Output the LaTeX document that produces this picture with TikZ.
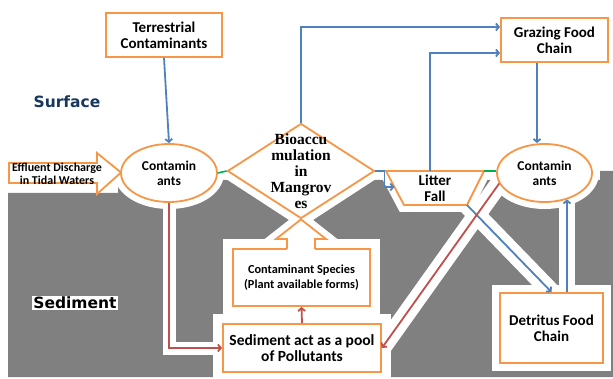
\documentclass[tikz,border=0pt]{standalone}
\usepackage{fontspec}
\setmainfont{Carlito}
\newfontfamily\timesfam{Liberation Serif}
\newfontfamily\heavyfam{DejaVu Sans}
\usetikzlibrary{arrows.meta,calc,shapes.geometric,backgrounds}
\definecolor{orng}{RGB}{247,150,70}
\definecolor{blu}{RGB}{79,129,189}
\definecolor{rd}{RGB}{192,80,77}
\definecolor{grn}{RGB}{0,176,80}
\definecolor{sedg}{RGB}{128,128,128}
\definecolor{navy}{RGB}{23,55,94}
\tikzset{
  box/.style={rectangle,draw=orng,line width=1.8pt,fill=white,inner sep=0pt,align=center,font=\bfseries\fontsize{15}{16}\selectfont},
  oval/.style={ellipse,draw=orng,line width=1.8pt,fill=white,inner sep=0pt,minimum width=96pt,minimum height=58pt,align=center,font=\bfseries\fontsize{13.5}{15}\selectfont},
  dia/.style={diamond,draw=orng,line width=1.8pt,fill=white,inner sep=0pt},
  shp/.style={draw=orng,line width=1.8pt,line join=miter},
  bflow/.style={draw=blu,line width=1.8pt,-{Straight Barb[length=3pt,width=7pt]}},
  rflow/.style={draw=rd,line width=1.8pt,-{Straight Barb[length=3pt,width=7pt]}},
  link/.style={draw=grn,line width=1.6pt},
  zone/.style={font=\heavyfam\bfseries\fontsize{15.5}{17}\selectfont},
  halo/.style={draw=white,line width=14pt,line join=miter},
}
\begin{document}
\begin{tikzpicture}[x=1pt,y=-1pt]
  \useasboundingbox (0,0) rectangle (613,379);
  % surface
  \node[box,minimum width=116pt,minimum height=44pt] (terr) at (164,35) {Terrestrial\\Contaminants};
  \node[box,minimum width=107pt,minimum height=44pt] (graz) at (554.5,40) {Grazing Food\\Chain};
  \node[zone,text=navy] (surf) at (67,102) {Surface};
  % effluent block arrow
  \draw[shp,fill=white] (9,163) -- (97,163) -- (97,153) -- (121,172.5) -- (97,194) -- (97,183) -- (9,183) -- cycle;
  \node[font=\bfseries\fontsize{12}{13}\selectfont,align=center,inner sep=0pt] (effl) at (57,173.5) {Effluent Discharge\\in Tidal Waters};
  \node[oval] (lc) at (169,173) {Contamin\\ants};
  \node[oval,minimum width=95pt] (rc) at (544.5,173) {Contamin\\ants};
  % bioaccumulation
  \node[dia,minimum width=147pt,minimum height=95pt] (bio) at (301,171) {};
  \node[font=\timesfam\bfseries\fontsize{15.5}{16}\selectfont,align=center,inner sep=0pt] (biot) at (bio) {Bioaccu\\mulation\\in\\Mangrov\\es};
  % litter fall
  \coordinate (lfa) at (386,171); \coordinate (lfb) at (484,171);
  \coordinate (lfc) at (467,205); \coordinate (lfd) at (404,205);
  \draw[shp,fill=white] (lfa) -- (lfb) -- (lfc) -- (lfd) -- cycle;
  \node[box,draw=none,fill=none] (litter) at (435,188) {Litter\\Fall};
  \coordinate (lftop) at (430,171);
  \coordinate (lfin) at ($(lfa)!0.47!(lfd)$);
  % sediment
  \node[zone,fill=white,inner sep=1pt] (sedl) at (75,303) {Sediment};
  \node[box,font=\bfseries\fontsize{12.3}{14.5}\selectfont,minimum width=137pt,minimum height=57pt] (cs) at (301.5,277.5) {Contaminant Species\\(Plant available forms)};
  \node[box,font=\bfseries\fontsize{15.5}{16}\selectfont,minimum width=158pt,minimum height=48pt] (sed) at (302,348) {Sediment act as a pool\\of Pollutants};
  \node[box,minimum width=103pt,minimum height=70pt] (det) at (551.5,328) {Detritus Food\\Chain};
  % uptake arrow
  \fill[white] (287,251) -- (287,239) -- (276,239) -- (bio.south) -- (326,239) -- (315,239) -- (315,251) -- cycle;
  \draw[shp] (287,249) -- (287,239) -- (276,239) -- (bio.south) -- (326,239) -- (315,239) -- (315,249);
  % flows
  \draw[bflow] (terr.south) -- (lc.north);
  \draw[link] (lc.east) -- (bio.west);
  \draw[bflow] (bio.north) |- ([yshift=13pt]graz.west);
  \draw[bflow] (lftop) |- ([yshift=-13pt]graz.west);
  \draw[bflow] (bio.east) -- ++(9,0) |- (lfin);
  \draw[link] (lfb) -- (lfb -| rc.west);
  \draw[bflow] ([xshift=-17.5pt]graz.south) -- ([xshift=-7.5pt]rc.north);
  \draw[bflow] (lfc) -- (det.north);
  \draw[bflow] ([xshift=15.5pt]det.north) -- ([xshift=15.5pt]det.north |- rc.-49);
  \draw[rflow] (rc.193) -- (sed.east);
  \draw[rflow] (lc.south) |- (sed.west);
  \draw[rflow] (sed.north) -- (cs.south);
  \begin{scope}[on background layer]
    \fill[sedg] (8,193) -- (118,193) -- (118,180) -- (600,180) -- (600,171) -- (613,171) -- (613,377) -- (8,377) -- cycle;
    \draw[halo] (lc.center) ellipse [x radius=48, y radius=29];
    \draw[halo] (rc.center) ellipse [x radius=47.5, y radius=29];
    \draw[halo] (bio.north) -- (bio.east) -- (bio.south) -- (bio.west) -- cycle;
    \draw[halo] (276,239) -- (bio.south) -- (326,239) -- cycle;
    \draw[halo] (lfa) -- (lfb) -- (lfc) -- (lfd) -- cycle;
    \draw[halo,line width=18pt] (cs.north west) rectangle (cs.south east);
    \draw[halo,line width=18pt] (sed.north west) rectangle (sed.south east);
    \draw[halo] (det.north west) rectangle (det.south east);
    \draw[halo,line width=13pt] (lc.south) |- (sed.west);
    \draw[halo,line width=18pt] (lfc) -- (det.north);
    \draw[halo,line width=18pt] (rc.193) -- (sed.east);
    \draw[halo,line width=16pt] ([xshift=15.5pt]det.north) -- ([xshift=15.5pt]det.north |- rc.-49);
  \end{scope}
\end{tikzpicture}
\end{document}
